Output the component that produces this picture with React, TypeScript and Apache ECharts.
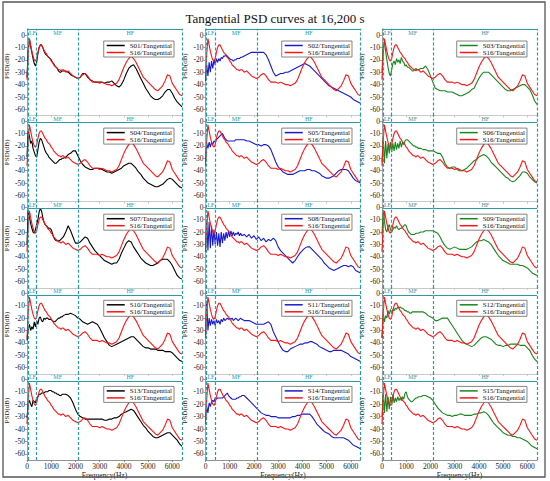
import React, { useEffect, useRef } from "react";
import * as echarts from "echarts";

// Frequency grid (Hz)
const FREQ = [
  0, 50, 100, 150, 200, 250, 300, 350, 400, 450,
  500, 550, 600, 650, 700, 750, 800, 850, 900, 950,
  1000, 1050, 1100, 1150, 1200, 1250, 1300, 1350, 1400, 1450, 1500,
  1600, 1700, 1800, 1900, 2000, 2100, 2200, 2300, 2400, 2500,
  2600, 2700, 2800, 2900, 3000, 3100, 3200, 3300, 3400, 3500,
  3600, 3700, 3800, 3900, 4000, 4100, 4200, 4300, 4400, 4500,
  4600, 4700, 4800, 4900, 5000, 5100, 5200, 5300, 5400, 5500,
  5600, 5700, 5800, 5900, 6000, 6100, 6200, 6300, 6400,
];

const S16 = [
  -36, -15, -3, -8, -13, -17, -20, -21, -19, -14,
  -10, -8, -8, -10, -12, -14, -15, -17, -18, -19,
  -21, -22, -24, -25, -26, -27, -28, -28, -29, -28, -28,
  -30, -29, -31, -33, -34, -35, -34, -32, -31, -33,
  -36, -38, -38, -38, -39, -38, -39, -40, -40, -41,
  -40, -39, -36, -31, -26, -22, -19, -17, -19, -22,
  -26, -30, -34, -36, -38, -40, -42, -44, -45, -43,
  -41, -37, -32, -33, -39, -42, -45, -48, -49,
];

const S01 = [
  -34, -12, -3, -9, -14, -19, -23, -25, -22, -15,
  -10, -8, -8, -10, -13, -15, -16, -17, -18, -19,
  -20, -22, -23, -25, -26, -27, -29, -30, -30, -29, -29,
  -29, -30, -32, -33, -34, -35, -34, -31, -31, -34,
  -36, -37, -38, -38, -38, -38, -39, -38, -38, -37,
  -39, -41, -42, -40, -36, -31, -27, -25, -24, -27,
  -31, -35, -39, -43, -46, -49, -51, -52, -52, -51,
  -49, -46, -44, -44, -47, -51, -54, -56, -58,
];

const S02 = [
  -37, -24, -33, -22, -30, -21, -27, -20, -24, -19,
  -22, -19, -21, -18, -19, -17, -17, -16, -17, -18,
  -19, -20, -20, -21, -20, -20, -19, -19, -19, -18, -18,
  -17, -16, -15, -14, -14, -14, -14, -14, -14, -16,
  -20, -25, -30, -33, -32, -31, -31, -30, -30, -29,
  -28, -27, -26, -25, -24, -23, -24, -25, -27, -29,
  -31, -33, -35, -37, -39, -41, -42, -43, -44, -45,
  -46, -47, -48, -49, -50, -52, -53, -54, -55,
];

const S03 = [
  -30, -8, -6, -13, -20, -26, -31, -33, -28, -23,
  -21, -24, -19, -22, -20, -23, -18, -21, -22, -25,
  -24, -26, -26, -27, -28, -29, -29, -28, -27, -28, -28,
  -27, -27, -25, -28, -33, -38, -43, -44, -45, -45,
  -45, -46, -46, -46, -47, -48, -49, -49, -48, -47,
  -46, -44, -43, -39, -35, -32, -30, -30, -30, -32,
  -34, -36, -38, -40, -42, -44, -45, -45, -44, -43,
  -42, -41, -40, -40, -42, -44, -48, -53, -56,
];

const S04 = [
  -29, -8, -12, -18, -16, -22, -25, -28, -29, -23,
  -17, -14, -15, -18, -21, -24, -26, -27, -29, -30,
  -31, -32, -33, -34, -34, -33, -32, -31, -31, -30, -30,
  -29, -27, -26, -24, -24, -28, -32, -35, -37, -38,
  -39, -39, -38, -38, -38, -39, -40, -41, -41, -42,
  -41, -40, -39, -38, -36, -35, -34, -34, -36, -38,
  -41, -43, -46, -48, -50, -51, -52, -53, -53, -52,
  -51, -49, -47, -46, -47, -49, -51, -53, -54,
];

const S05 = [
  -33, -18, -22, -17, -21, -17, -19, -16, -17, -15,
  -14, -13, -12, -11, -10, -12, -14, -15, -16, -16,
  -16, -16, -16, -16, -16, -15, -15, -15, -15, -15, -15,
  -15, -16, -16, -17, -18, -19, -19, -20, -19, -19,
  -20, -23, -28, -33, -37, -39, -41, -42, -43, -43,
  -43, -42, -41, -40, -40, -40, -39, -39, -40, -40,
  -41, -42, -44, -45, -46, -46, -45, -44, -42, -40,
  -39, -39, -39, -40, -43, -46, -48, -49, -50,
];

const S06 = [
  -33, -14, -34, -16, -30, -18, -26, -17, -25, -18,
  -24, -17, -23, -18, -22, -16, -21, -17, -19, -16,
  -15, -15, -16, -17, -18, -19, -20, -20, -21, -21, -22,
  -22, -23, -23, -24, -24, -24, -25, -26, -26, -29,
  -34, -37, -38, -37, -37, -39, -40, -40, -39, -38,
  -36, -34, -32, -31, -29, -28, -27, -28, -30, -33,
  -35, -37, -39, -41, -43, -45, -46, -48, -49, -48,
  -46, -44, -41, -41, -42, -45, -47, -49, -50,
];

const S07 = [
  -30, -2, -8, -13, -17, -20, -21, -18, -14, -10,
  -4, -1, -3, -8, -12, -14, -15, -16, -17, -17,
  -18, -21, -24, -26, -27, -27, -27, -27, -26, -25, -24,
  -20, -15, -19, -24, -29, -29, -28, -26, -24, -25,
  -29, -32, -35, -37, -39, -41, -43, -44, -45, -46,
  -45, -45, -42, -37, -33, -29, -27, -28, -32, -35,
  -38, -41, -43, -45, -46, -47, -47, -46, -45, -43,
  -42, -42, -42, -44, -47, -51, -55, -57, -58,
];

const S08 = [
  -36, -10, -35, -12, -33, -15, -31, -18, -30, -20,
  -31, -21, -32, -20, -29, -21, -27, -20, -25, -19,
  -24, -19, -23, -20, -23, -21, -22, -20, -23, -21, -23,
  -22, -24, -22, -25, -23, -26, -24, -27, -25, -28,
  -26, -27, -25, -27, -32, -35, -37, -39, -41, -43,
  -45, -43, -40, -37, -35, -33, -32, -32, -34, -36,
  -38, -40, -42, -45, -47, -49, -50, -51, -50, -49,
  -48, -47, -47, -48, -47, -48, -51, -52, -53,
];

const S09 = [
  -22, -3, -11, -18, -20, -16, -14, -18, -20, -18,
  -16, -17, -15, -17, -18, -17, -17, -16, -15, -14,
  -15, -18, -20, -21, -22, -22, -22, -22, -21, -21, -21,
  -20, -20, -19, -19, -19, -19, -20, -21, -24, -28,
  -31, -33, -34, -33, -32, -33, -34, -34, -34, -34,
  -33, -32, -30, -28, -27, -27, -26, -27, -28, -30,
  -33, -36, -39, -41, -43, -44, -45, -46, -46, -46,
  -46, -47, -47, -48, -49, -51, -53, -54, -55,
];

const S10 = [
  -38, -29, -25, -30, -27, -29, -23, -27, -22, -25,
  -20, -19, -22, -23, -20, -21, -20, -20, -21, -21,
  -21, -22, -23, -23, -22, -21, -20, -20, -19, -19, -18,
  -17, -17, -16, -17, -18, -20, -21, -23, -24, -25,
  -24, -23, -24, -25, -28, -32, -36, -39, -42, -43,
  -42, -41, -40, -39, -38, -37, -36, -35, -35, -37,
  -39, -41, -43, -44, -44, -45, -45, -45, -46, -46,
  -46, -47, -47, -47, -48, -50, -52, -54, -55,
];

const S11 = [
  -36, -6, -30, -20, -26, -21, -25, -22, -26, -21,
  -24, -22, -25, -21, -23, -20, -22, -21, -20, -21,
  -20, -21, -20, -22, -21, -20, -21, -22, -21, -20, -21,
  -22, -22, -22, -23, -24, -25, -25, -25, -25, -24,
  -23, -25, -31, -35, -39, -43, -46, -47, -47, -45,
  -44, -43, -42, -41, -41, -40, -40, -39, -39, -40,
  -41, -43, -44, -45, -46, -47, -47, -46, -46, -46,
  -46, -47, -48, -49, -51, -52, -53, -54, -55,
];

const S12 = [
  -36, -17, -23, -18, -20, -14, -17, -13, -16, -13,
  -14, -12, -13, -11, -12, -11, -12, -12, -13, -14,
  -14, -15, -15, -16, -16, -15, -15, -15, -15, -15, -15,
  -15, -15, -16, -18, -19, -20, -22, -22, -21, -20,
  -20, -20, -23, -26, -29, -32, -35, -38, -40, -41,
  -42, -43, -42, -40, -38, -36, -35, -35, -36, -37,
  -39, -41, -42, -42, -43, -42, -42, -41, -41, -41,
  -41, -42, -42, -42, -44, -46, -50, -53, -55,
];

const S13 = [
  -31, -20, -17, -20, -22, -17, -18, -19, -15, -14,
  -12, -12, -11, -11, -11, -10, -10, -10, -9, -9,
  -9, -10, -10, -11, -11, -12, -12, -13, -13, -12, -12,
  -12, -13, -15, -19, -24, -28, -30, -31, -32, -32,
  -32, -32, -32, -32, -32, -32, -33, -33, -32, -32,
  -31, -31, -30, -28, -27, -26, -25, -24, -25, -28,
  -31, -34, -37, -39, -42, -44, -46, -47, -47, -46,
  -45, -44, -43, -43, -45, -47, -49, -52, -54,
];

const S14 = [
  -33, -22, -27, -19, -22, -18, -17, -18, -15, -16,
  -15, -15, -15, -15, -15, -14, -13, -12, -11, -13,
  -14, -15, -16, -16, -16, -16, -15, -15, -14, -14, -13,
  -13, -15, -17, -19, -21, -23, -25, -27, -28, -29,
  -29, -30, -30, -30, -31, -31, -31, -31, -31, -31,
  -30, -30, -29, -29, -28, -28, -28, -28, -30, -33,
  -36, -38, -40, -42, -43, -44, -46, -47, -47, -47,
  -47, -47, -48, -49, -51, -53, -54, -55, -56,
];

const S15 = [
  -30, -11, -27, -12, -26, -14, -24, -14, -21, -12,
  -19, -15, -18, -14, -17, -15, -17, -14, -16, -11,
  -10, -14, -16, -17, -18, -18, -17, -16, -15, -15, -14,
  -14, -13, -13, -14, -15, -17, -20, -23, -25, -27,
  -28, -29, -29, -30, -29, -29, -28, -28, -29, -29,
  -29, -29, -28, -28, -27, -27, -26, -27, -29, -32,
  -35, -37, -39, -41, -43, -44, -45, -45, -46, -46,
  -47, -47, -48, -49, -50, -52, -54, -55, -56,
];

const SERIES_NAMES = [
  "S01/Tangential", "S02/Tangential", "S03/Tangential",
  "S04/Tangential", "S05/Tangential", "S06/Tangential",
  "S07/Tangential", "S08/Tangential", "S09/Tangential",
  "S10/Tangential", "S11/Tangential", "S12/Tangential",
  "S13/Tangential", "S14/Tangential", "S15/Tangential",
];
const SERIES_VALUES = [S01, S02, S03, S04, S05, S06, S07, S08, S09, S10, S11, S12, S13, S14, S15];
const REF_NAME = "S16/Tangential";

const BAND_EDGES = [0, 50, 400, 2130, 6400];
const BAND_LABELS = ["", "LF", "MF", "HF"];
const Y_TICKS = [0, -10, -20, -30, -40, -50, -60];
const X_TICKS = [0, 1000, 2000, 3000, 4000, 5000, 6000];

const TITLE = "Tangential PSD curves at 16,200 s";
const FONT = "Liberation Serif, Times New Roman, serif";
const TEAL = "#2b9aa5";
const RED = "#ff1414";
const COL_COLORS = ["#000000", "#1a1acc", "#17861c"];

export default function App() {
  const ref = useRef<HTMLDivElement>(null);

  useEffect(() => {
    document.body.style.margin = "0";
    const chart = echarts.init(ref.current as HTMLDivElement, null, { renderer: "svg" });

    const colLeft = [27, 205.5, 382];
    const plotW = 155;
    const rowZero = [35, 121.1, 207.2, 293.3, 379.4];
    const yMax = 5;
    const yMin = -65;
    const pxPerDb = 1.24;
    const legendRight = [376, 198, 23];

    const grids: any[] = [];
    const xAxes: any[] = [];
    const yAxes: any[] = [];
    const series: any[] = [];
    const legends: any[] = [];

    for (let i = 0; i < 15; i++) {
      const r = Math.floor(i / 3);
      const c = i % 3;
      const isBottom = r === 4;
      grids.push({
        left: colLeft[c],
        top: rowZero[r] - yMax * pxPerDb,
        width: plotW,
        height: (yMax - yMin) * pxPerDb,
        outerBoundsMode: "none",
        containLabel: false,
      });
      xAxes.push({
        type: "value",
        gridIndex: i,
        min: 0,
        max: 6400,
        axisLine: { show: true, onZero: false, lineStyle: { color: isBottom ? "#777" : "#bbb", width: 0.8 } },
        axisTick: { show: true, length: 2, customValues: X_TICKS, lineStyle: { color: isBottom ? "#777" : "#bbb", width: 0.8 } },
        axisLabel: {
          show: isBottom,
          customValues: X_TICKS,
          formatter: (v: number) => String(v),
          fontSize: 7.5,
          fontFamily: FONT,
          color: "#222",
          margin: 2,
        },
        splitLine: { show: false },
        name: isBottom ? "Frequency(Hz)" : "",
        nameLocation: "middle",
        nameGap: 11,
        nameTextStyle: { fontSize: 7.5, fontFamily: FONT, color: "#222" },
      });
      yAxes.push({
        type: "value",
        gridIndex: i,
        min: yMin,
        max: yMax,
        axisLine: { show: true, onZero: false, lineStyle: { color: "#888", width: 0.8 } },
        axisTick: { show: true, length: 2, customValues: Y_TICKS, lineStyle: { color: "#888", width: 0.8 } },
        axisLabel: {
          customValues: Y_TICKS,
          formatter: (v: number) => String(v),
          fontSize: 7.5,
          fontFamily: FONT,
          color: "#222",
          margin: 2,
        },
        splitLine: { show: false },
        name: "PSD(dB)",
        nameLocation: "middle",
        nameGap: 17,
        nameTextStyle: { fontSize: 7, fontFamily: FONT, color: "#222", padding: [0, 0, 0, 12] },
      });

      const tealY = r === 0 ? yMax : -1.2;
      const labelPos = r === 0 ? "insideMiddleBottom" : "insideMiddleTop";
      const bandLines: any[] = [
        ...BAND_EDGES.slice(1).map((x) => ({ xAxis: x })),
        ...BAND_LABELS.map((b, k) => [
          {
            coord: [BAND_EDGES[k], tealY],
            lineStyle: { type: "solid", width: 1, color: TEAL },
            label: {
              show: b !== "",
              formatter: b,
              position: labelPos,
              color: TEAL,
              fontSize: 6,
              fontFamily: FONT,
              distance: 1,
            },
          },
          { coord: [BAND_EDGES[k + 1], tealY] },
        ]),
      ];

      series.push({
        type: "line",
        name: SERIES_NAMES[i],
        xAxisIndex: i,
        yAxisIndex: i,
        data: FREQ.map((f, k) => [f, SERIES_VALUES[i][k]]),
        showSymbol: false,
        symbol: "none",
        silent: true,
        z: 3,
        lineStyle: { color: COL_COLORS[c], width: 1.1 },
        itemStyle: { color: COL_COLORS[c] },
        markLine: {
          silent: true,
          symbol: ["none", "none"],
          emphasis: { disabled: true },
          lineStyle: { color: TEAL, type: [3, 2], width: 1.2 },
          label: { show: false },
          data: bandLines,
        },
      });
      series.push({
        type: "line",
        name: REF_NAME,
        xAxisIndex: i,
        yAxisIndex: i,
        data: FREQ.map((f, k) => [f, S16[k]]),
        showSymbol: false,
        symbol: "none",
        silent: true,
        z: 4,
        lineStyle: { color: RED, width: 1.1 },
        itemStyle: { color: RED },
      });

      legends.push({
        show: true,
        orient: "vertical",
        top: rowZero[r] + (r === 0 ? 6 : 7),
        right: legendRight[c],
        data: [SERIES_NAMES[i], REF_NAME],
        icon: "rect",
        itemWidth: 18,
        itemHeight: 1.5,
        itemGap: 0,
        padding: [1, 2, 1, 3],
        borderColor: "#666",
        borderWidth: 0.8,
        borderRadius: 0,
        backgroundColor: "#fff",
        selectedMode: false,
        z: 10,
        textStyle: { fontSize: 7, fontFamily: FONT, color: "#111", lineHeight: 7 },
      });
    }

    chart.setOption({
      animation: false,
      backgroundColor: "#fff",
      textStyle: { fontFamily: FONT },
      title: {
        text: TITLE,
        left: "center",
        top: 7,
        textStyle: { fontSize: 13, fontFamily: FONT, fontWeight: "normal", color: "#111" },
      },
      graphic: [
        {
          type: "rect",
          silent: true,
          z: 100,
          shape: { x: 3, y: 2, width: 542, height: 475 },
          style: { fill: "none", stroke: "#555", lineWidth: 1.3 },
        },
      ],
      grid: grids,
      xAxis: xAxes,
      yAxis: yAxes,
      legend: legends,
      series,
    });

    return () => {
      chart.dispose();
    };
  }, []);

  return <div ref={ref} style={{ width: 550, height: 481 }} />;
}
